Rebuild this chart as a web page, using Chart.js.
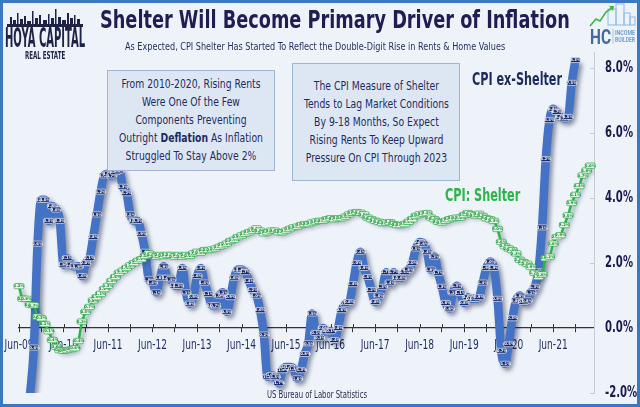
<!DOCTYPE html>
<html>
<head>
<meta charset="utf-8">
<script src="https://cdn.jsdelivr.net/npm/chart.js@4.4.1/dist/chart.umd.min.js"></script>
<style>
  html, body { margin: 0; padding: 0; }
  body { width: 640px; height: 407px; overflow: hidden; background: #eef3fa;
    font-family: 'Liberation Sans Narrow', 'DejaVu Sans Condensed', Roboto, sans-serif; color: #1f2b5e; }
  #wrap { position: relative; width: 640px; height: 407px; }
  #wrap canvas { position: absolute; left: 0; top: 0; }
  .frame { position: absolute; left: 0; top: 0; right: 0; bottom: 0; border: 3px solid #3a78c4; pointer-events: none; }
  .txt { position: absolute; left: 0; white-space: nowrap; text-align: center; transform-origin: 0 50%; }
  .note { position: absolute; background: #dde7f4; border: 1px solid #a3b4cf; box-sizing: border-box; }
  .notetext { font-size: 13px; line-height: 18px; color: #1f2b5e; }
</style>
</head>
<body>
<div id="wrap">
  <canvas id="shelterChart"></canvas>

  <div class="txt" data-cx="335" data-w="470" style="top:6px; font-size:24px; line-height:28px; font-weight:bold; color:#211c52;">Shelter Will Become Primary Driver of Inflation</div>
  <div class="txt" data-cx="315" data-w="380" style="top:40px; font-size:11px; line-height:14px; color:#1f2b55;">As Expected, CPI Shelter Has Started To Reflect the Double-Digit Rise in Rents &amp; Home Values</div>

  <svg style="position:absolute; left:7px; top:7px;" width="76" height="20" viewBox="0 0 76 20" fill="#1c2344">
    <rect x="0" y="17" width="76" height="3"/>
    <rect x="3" y="10" width="2" height="7"/><rect x="6" y="13" width="3" height="4"/>
    <rect x="10" y="6" width="1.5" height="11"/><rect x="13" y="12" width="3" height="5"/>
    <rect x="17" y="9" width="2" height="8"/><rect x="20" y="14" width="4" height="3"/>
    <rect x="25" y="4" width="1.5" height="13"/><rect x="28" y="11" width="3" height="6"/>
    <rect x="32" y="8" width="2" height="9"/><rect x="36" y="13" width="4" height="4"/>
    <rect x="41" y="7" width="1.5" height="10"/><rect x="44" y="11" width="3" height="6"/>
    <rect x="48" y="2" width="1.5" height="15"/><rect x="51" y="10" width="3" height="7"/>
    <rect x="55" y="13" width="4" height="4"/><rect x="60" y="6" width="2" height="11"/>
    <rect x="63" y="11" width="3" height="6"/><rect x="67" y="8" width="1.5" height="9"/>
    <rect x="70" y="12" width="3" height="5"/>
  </svg>
  <div class="txt" data-cx="45" data-w="80" style="top:25px; font-size:26px; line-height:26px; font-weight:bold; color:#1c2344;">HOYA CAPITAL</div>
  <div class="txt" data-cx="45" data-w="40" style="top:50px; font-size:10px; line-height:11px; font-weight:bold; color:#1c2344;">REAL ESTATE</div>

  <svg style="position:absolute; left:588px; top:0px;" width="50" height="48" viewBox="0 0 50 48">
    <g fill="none" stroke="#8cb9e6" stroke-width="1">
      <rect x="20" y="9" width="8" height="16"/><rect x="28" y="4" width="8" height="21"/>
      <rect x="36" y="13" width="6" height="12"/><rect x="42" y="17" width="5" height="8"/>
    </g>
    <polyline points="2,26 8,19 12,21 18,12 24,8" fill="none" stroke="#3cb54a" stroke-width="1.6"/>
    <polygon points="21,6 26,6 25,11" fill="#3cb54a"/>
    <text x="2" y="44" font-size="20" font-weight="bold" fill="#45699a" textLength="21" lengthAdjust="spacingAndGlyphs" font-family="'Liberation Sans Narrow', Roboto, sans-serif">HC</text>
    <line x1="25" y1="29" x2="25" y2="44" stroke="#9bb3cc" stroke-width="0.8"/>
    <text x="27" y="35" font-size="6.5" font-weight="bold" fill="#6d9fd2" textLength="20" lengthAdjust="spacingAndGlyphs" font-family="'Liberation Sans Narrow', Roboto, sans-serif">INCOME</text>
    <text x="27" y="42" font-size="6.5" font-weight="bold" fill="#6d9fd2" textLength="20" lengthAdjust="spacingAndGlyphs" font-family="'Liberation Sans Narrow', Roboto, sans-serif">BUILDER</text>
  </svg>

  <div class="note" style="left:107px; top:70px; width:168px; height:101px;"></div>
  <div class="txt notetext" data-cx="191" data-w="144" style="top:75px;">From 2010-2020, Rising Rents<br>Were One Of the Few<br>Components Preventing<br>Outright <b>Deflation</b> As Inflation<br>Struggled To Stay Above 2%</div>
  <div class="note" style="left:292px; top:63px; width:168px; height:118px;"></div>
  <div class="txt notetext" data-cx="376" data-w="145" style="top:77px;">The CPI Measure of Shelter<br>Tends to Lag Market Conditions<br>By 9-18 Months, So Expect<br>Rising Rents To Keep Upward<br>Pressure On CPI Through 2023</div>

  <div class="txt" data-cx="517" data-w="90" style="top:68px; font-size:18px; line-height:22px; font-weight:bold; color:#1c2a5c;">CPI ex-Shelter</div>
  <div class="txt" data-cx="482" data-w="75" style="top:184px; font-size:18px; line-height:22px; font-weight:bold; color:#2db34a;">CPI: Shelter</div>

  <div class="txt" data-cx="317" data-w="100" style="top:389px; font-size:10px; line-height:12px; color:#1f2a44;">US Bureau of Labor Statistics</div>

  <div class="frame"></div>
</div>

<script>
// monthly, Jun-09 .. May-22
const monthNames = ["Jan", "Feb", "Mar", "Apr", "May", "Jun", "Jul", "Aug", "Sep", "Oct", "Nov", "Dec"];
const months = [];
for (let i = 0; i < 156; i++) {
  const m = 5 + i;
  months.push(monthNames[m % 12] + "-" + String(9 + Math.floor(m / 12)).padStart(2, "0"));
}
const yTicks = [-2, 0, 2, 4, 6, 8];

// CPI ex-Shelter, YoY %, Jun-09 .. Dec-21
const exShelter = [
  -2.9, -3.6, -3.0, -2.0, -0.6, 2.6, 3.95,
  3.95, 3.3, 3.75, 3.65, 3.3, 1.95, 2.15, 1.95, 1.9, 1.9, 1.6, 2.0,
  2.15, 2.8, 3.5, 4.2, 4.7, 4.75, 4.7, 4.8, 4.85, 4.35, 4.15, 3.5,
  3.3, 3.3, 2.9, 2.35, 1.5, 1.4, 1.1, 1.55, 1.9, 1.55, 1.5, 1.3,
  1.3, 1.85, 1.1, 0.75, 0.95, 1.6, 1.85, 1.4, 1.05, 0.7, 0.7, 1.0,
  1.1, 0.5, 0.95, 1.55, 1.8, 1.8, 1.72, 1.45, 1.17, 1.0, 0.55, -0.2,
  -1.5, -1.45, -1.5, -1.7, -1.3, -1.2, -1.2, -1.25, -1.55, -1.3, -0.8, -0.47,
  0.45, -0.15, -0.3, 0.0, -0.1, -0.1, -0.37, 0.0, 0.55, 0.75, 0.8, 1.35,
  2.0, 2.35, 1.85, 1.57, 1.17, 0.8, 1.0, 1.27, 1.72, 1.4, 1.72, 1.55,
  1.55, 1.72, 1.8, 2.0, 2.45, 2.65, 2.6, 2.35, 1.8, 2.2, 1.7, 1.27,
  0.77, 0.6, 1.1, 1.3, 1.08, 0.77, 0.95, 0.9, 0.9, 0.95, 1.4, 1.85,
  2.05, 1.85, 0.9, -0.7, -1.1, -0.5, 0.3, 0.85, 1.0, 0.8, 0.85, 1.1,
  1.27, 1.75, 3.1, 5.2, 6.4, 6.75, 6.65, 6.5, 6.45, 6.5, 7.55, 8.25
];

// CPI: Shelter, YoY %, Jun-09 .. Apr-22
const shelter = [
  1.29, 0.9, 0.9, 0.72, 0.7, 0.35, 0.3,
  0.12, -0.1, -0.37, -0.58, -0.68, -0.7, -0.68, -0.65, -0.62, -0.4, 0.2, 0.5,
  0.65, 0.85, 0.95, 1.05, 1.2, 1.3, 1.45, 1.57, 1.7, 1.77, 1.85, 1.93,
  2.0, 2.07, 2.12, 2.22, 2.3, 2.25, 2.2, 2.25, 2.22, 2.25, 2.25, 2.2,
  2.25, 2.2, 2.25, 2.22, 2.3, 2.35, 2.32, 2.4, 2.4, 2.42, 2.45, 2.5,
  2.55, 2.6, 2.68, 2.72, 2.8, 2.85, 2.9, 2.95, 3.0, 3.07, 3.0, 2.92,
  2.95, 3.0, 3.0, 2.95, 2.95, 3.0, 3.05, 3.1, 3.12, 3.17, 3.2, 3.2,
  3.25, 3.28, 3.3, 3.3, 3.35, 3.38, 3.35, 3.38, 3.38, 3.43, 3.5, 3.55,
  3.57, 3.55, 3.5, 3.4, 3.35, 3.3, 3.27, 3.23, 3.25, 3.26, 3.2, 3.17,
  3.17, 3.2, 3.27, 3.35, 3.45, 3.5, 3.52, 3.54, 3.4, 3.35, 3.27, 3.25,
  3.3, 3.35, 3.38, 3.4, 3.4, 3.48, 3.54, 3.5, 3.47, 3.52, 3.45, 3.38,
  3.35, 3.3, 3.05, 2.65, 2.52, 2.45, 2.4, 2.3, 2.1, 2.03, 1.98, 1.88,
  1.7, 1.57, 1.65, 2.15, 2.2, 2.6, 2.8, 2.86, 3.17, 3.47, 3.85, 4.1,
  4.37, 4.7, 4.85, 5.0
];

const narrow = "'Liberation Sans Narrow', 'DejaVu Sans Condensed', Roboto, sans-serif";

// squeeze each text block to the width it has in the picture, centred on cx
function fitText() {
  const elts = document.getElementsByClassName("txt");
  for (let elt of elts) {
    const w = parseFloat(elt.dataset.w);
    const cx = parseFloat(elt.dataset.cx);
    const k = w / elt.offsetWidth;
    elt.style.left = (cx - w / 2) + "px";
    elt.style.transform = "scaleX(" + k + ")";
  }
}

function squeezedText(ctx, text, x, y, k) {
  ctx.save();
  ctx.translate(x, y);
  ctx.scale(k, 1);
  ctx.fillText(text, 0, 0);
  ctx.restore();
}

// ticks that cross the zero line, inward ticks on the right axis, and condensed tick labels
const axisTicks = {
  id: "axisTicks",
  beforeDatasetsDraw(chart) {
    const { ctx, scales, chartArea } = chart;
    const y0 = scales.y.getPixelForValue(0);
    ctx.save();
    ctx.strokeStyle = "#333";
    ctx.lineWidth = 1;
    ctx.beginPath();
    for (let i = 0; i < months.length; i += 6) {
      const px = Math.round(scales.x.getPixelForValue(i)) + 0.5;
      ctx.moveTo(px, y0 - 4);
      ctx.lineTo(px, y0);
    }
    ctx.stroke();
    ctx.strokeStyle = "#c5cad4";
    ctx.beginPath();
    for (const v of yTicks) {
      const py = Math.round(scales.y.getPixelForValue(v)) + 0.5;
      ctx.moveTo(chartArea.right - 4, py);
      ctx.lineTo(chartArea.right, py);
    }
    ctx.stroke();

    ctx.fillStyle = "#1f2d5c";
    ctx.font = "14px " + narrow;
    ctx.textAlign = "center";
    ctx.textBaseline = "middle";
    const kx = 29 / ctx.measureText("Jun-11").width;
    for (let i = 0; i < months.length; i += 12) {
      squeezedText(ctx, months[i], scales.x.getPixelForValue(i), y0 + 17, kx);
    }
    ctx.fillStyle = "#1b1a4c";
    ctx.font = "bold 15px " + narrow;
    ctx.textAlign = "left";
    const ky = 28 / ctx.measureText("8.0%").width;
    for (const v of yTicks) {
      squeezedText(ctx, v.toFixed(1) + "%", chartArea.right + 11, scales.y.getPixelForValue(v), ky);
    }
    ctx.restore();
  }
};

// drop shadow under each line, then a small value tag on every point
const pointTags = {
  id: "pointTags",
  beforeDatasetDraw(chart, args) {
    const ctx = chart.ctx;
    ctx.save();
    ctx.shadowColor = "rgba(15, 25, 60, 0.45)";
    ctx.shadowBlur = 4;
    ctx.shadowOffsetX = 3;
    ctx.shadowOffsetY = 3;
  },
  afterDatasetDraw(chart, args) {
    const ctx = chart.ctx;
    ctx.restore();
    const ds = chart.data.datasets[args.index];
    const area = chart.chartArea;
    const w = ds.tagSize[0], h = ds.tagSize[1];
    ctx.save();
    ctx.font = "bold 3.8px 'DejaVu Sans'";
    ctx.textAlign = "center";
    ctx.textBaseline = "middle";
    ctx.lineWidth = 0.7;
    args.meta.data.forEach((pt, i) => {
      const v = ds.data[i];
      if (v == null || pt.y > area.bottom - 2 || pt.y < area.top) return;
      ctx.fillStyle = ds.tagFill;
      ctx.strokeStyle = ds.tagStroke;
      ctx.beginPath();
      ctx.roundRect(pt.x - w / 2, pt.y - h / 2, w, h, 1.5);
      ctx.fill();
      ctx.stroke();
      ctx.fillStyle = ds.tagText;
      ctx.fillText(v.toFixed(1) + "%", pt.x, pt.y + 0.2);
    });
    ctx.restore();
  }
};

function loadChart() {
  const data = {
    labels: months,
    datasets: [
      {
        label: "CPI: Shelter",
        data: shelter,
        borderColor: "#2db34a",
        borderWidth: 2.5,
        pointRadius: 0,
        cubicInterpolationMode: "monotone",
        tagFill: "#e3f6e3",
        tagStroke: "#2aa84a",
        tagText: "#1d8a38",
        tagSize: [10, 5.4],
      },
      {
        label: "CPI ex-Shelter",
        data: exShelter,
        borderColor: "#4472c4",
        borderWidth: 8.5,
        pointRadius: 0,
        cubicInterpolationMode: "monotone",
        tagFill: "#1d2b6b",
        tagStroke: "#eef3fa",
        tagText: "#ffffff",
        tagSize: [10, 5],
      },
    ],
  };
  const options = {
    responsive: true,
    maintainAspectRatio: false,
    animation: false,
    layout: { padding: { left: 19, top: 52, right: 0, bottom: 14 } },
    plugins: { legend: { display: false }, tooltip: { enabled: false } },
    scales: {
      x: {
        position: { y: 0 },
        grid: { drawOnChartArea: false, tickLength: 4, color: "#333", lineWidth: 1 },
        border: { color: "#333", width: 1.2 },
        ticks: {
          autoSkip: false,
          maxRotation: 0,
          font: { size: 1 },
          callback: (v, i) => (i % 6 === 0 ? "" : null),
        },
      },
      y: {
        position: "right",
        min: -2,
        max: 8.5,
        afterFit(scale) { scale.width = 46; },
        grid: { drawOnChartArea: false, drawTicks: false },
        border: { color: "#c5cad4", width: 1 },
        ticks: { display: false, stepSize: 2 },
      },
    },
  };
  const config = { type: "line", data: data, options: options, plugins: [axisTicks, pointTags] };
  new Chart(document.getElementById("shelterChart"), config);
}

fitText();
loadChart();
</script>
</body>
</html>
